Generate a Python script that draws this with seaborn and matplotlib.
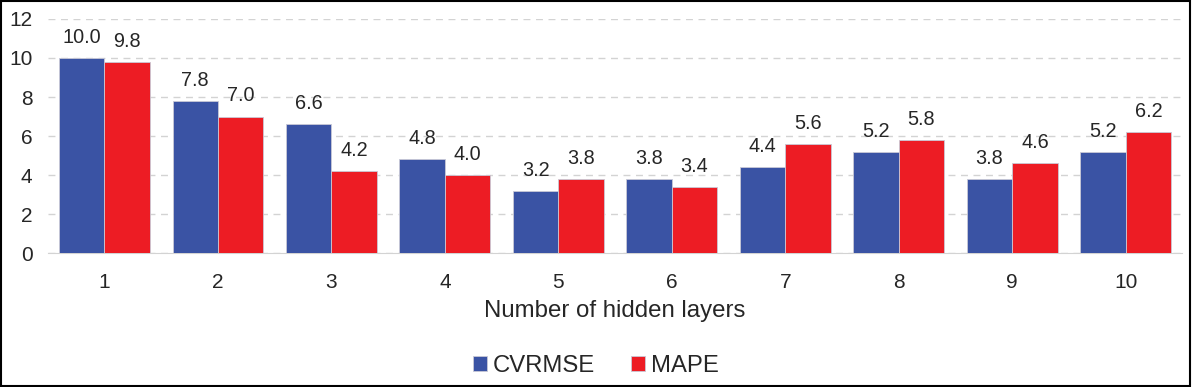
import seaborn as sns
import pandas as pd
import matplotlib.pyplot as plt
from matplotlib.patches import Rectangle

# values
layers = ["1", "2", "3", "4", "5", "6", "7", "8", "9", "10"]
cvrmse = [10.0, 7.8, 6.6, 4.8, 3.2, 3.8, 4.4, 5.2, 3.8, 5.2]
mape = [9.8, 7.0, 4.2, 4.0, 3.8, 3.4, 5.6, 5.8, 4.6, 6.2]

df = pd.DataFrame({
    "layers": layers * 2,
    "value": cvrmse + mape,
    "metric": ["CVRMSE"] * len(layers) + ["MAPE"] * len(layers),
})

sns.set_style("white")
plt.rcParams['font.family'] = ['Liberation Sans', 'DejaVu Sans']

fig = plt.figure(figsize=(11.92, 3.87), dpi=100)
ax = fig.add_axes([0.040, 0.346, 0.952, 0.605])

palette = {"CVRMSE": "#3A53A4", "MAPE": "#ED1C24"}
sns.barplot(data=df, x="layers", y="value", hue="metric", palette=palette,
            width=0.8, saturation=1, ax=ax, edgecolor="#c9c9d6", linewidth=0.6,
            zorder=3)

for cont in ax.containers:
    ax.bar_label(cont, fmt="%.1f", padding=8, fontsize=14.3)

ax.set_ylim(0, 12)
ax.set_yticks(range(0, 13, 2))
ax.set_xlim(-0.5, 9.5)
ax.yaxis.grid(True, linestyle=(0, (5, 4)), color="#d3d3d3", linewidth=1, zorder=0)
for s in ["top", "right", "left"]:
    ax.spines[s].set_visible(False)
ax.spines["bottom"].set_color("#d3d3d3")
ax.tick_params(axis="both", labelsize=15, length=0)
ax.tick_params(axis="x", pad=14)
ax.tick_params(axis="y", pad=11)
ax.set_xlabel("Number of hidden layers", fontsize=17.3, labelpad=6)
ax.set_ylabel("")

ax.legend_.remove()
handles, labels = ax.get_legend_handles_labels()
fig.legend(handles, labels, loc="center", bbox_to_anchor=(0.5, 0.055), ncol=2,
           frameon=False, fontsize=17.2, handlelength=0.6, handleheight=0.6,
           handletextpad=0.25, columnspacing=1.5)

fig.patches.append(Rectangle((0.001, 0.002), 0.997, 0.995, transform=fig.transFigure,
                             fill=False, edgecolor="black", linewidth=1.5))

fig.savefig("out.png", dpi=100)
